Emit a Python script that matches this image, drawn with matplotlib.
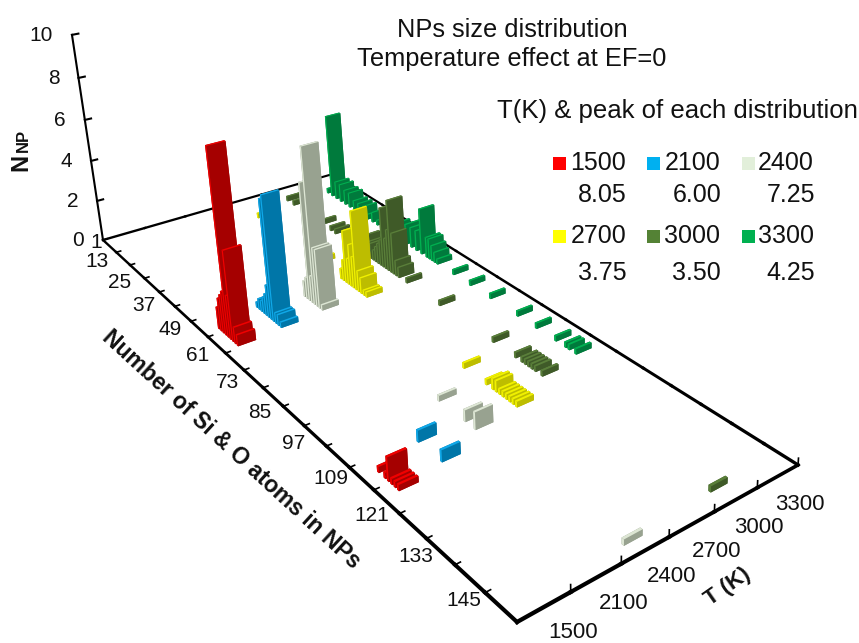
import numpy as np
import matplotlib
matplotlib.use("Agg")
import matplotlib.pyplot as plt
from matplotlib.patches import Rectangle

plt.rcParams["font.family"] = ["Liberation Sans", "DejaVu Sans"]

W_PX, H_PX = 859, 643

temps = ["1500", "2100", "2400", "2700", "3000", "3300"]
peaks = ["8.05", "6.00", "7.25", "3.75", "3.50", "4.25"]
size_labels = [1, 13, 25, 37, 49, 61, 73, 85, 97, 109, 121, 133, 145]
z_ticks = [0, 2, 4, 6, 8, 10]

# number of atoms in the NP and how many NPs, one pair of lists per temperature
sizes_1500 = [52, 53, 54, 55, 56, 57, 58, 59, 60, 110, 112, 113, 114, 115, 116]
counts_1500 = [1, 1.5, 1.75, 2, 8.4, 2, 4.1, 0.75, 0.5, 0.25, 0.25, 1, 0.25, 0.25, 0.25]
sizes_2100 = [49, 50, 51, 52, 53, 54, 55, 56, 57, 58, 59, 107, 114]
counts_2100 = [0.25, 0.5, 0.5, 0.75, 1, 1.5, 5.5, 5.75, 0.5, 0.5, 0.25, 0.5, 0.5]
sizes_2400 = [51, 52, 53, 54, 55, 56, 57, 58, 99, 107, 110, 148]
counts_2400 = [0.75, 1, 5.5, 1.25, 7.25, 2.75, 2.75, 0.25, 0.25, 0.5, 0.75, 0.25]
sizes_2700 = [12, 40, 49, 50, 51, 52, 53, 54, 55, 56, 57, 58, 59, 93, 100, 102, 103, 104, 105, 106, 107, 108, 109]
counts_2700 = [0.25, 0.25, 0.5, 1, 2.5, 1.25, 2, 1.5, 3.75, 1, 0.75, 0.25, 0.25, 0.25, 0.25, 0.5, 0.5, 0.25, 0.25, 0.25, 0.25, 0.25, 0.25]
sizes_3000 = [8, 11, 24, 28, 30, 43, 44, 45, 46, 47, 48, 49, 50, 51, 52, 53, 54, 55, 56, 59, 71, 89, 96, 98, 99, 100, 101, 102, 104, 147]
counts_3000 = [0.25, 0.25, 0.25, 0.25, 0.25, 1, 0.75, 0.75, 0.5, 0.75, 1, 1.25, 2.9, 1.5, 2, 3.5, 2, 0.75, 0.5, 0.25, 0.25, 0.25, 0.25, 0.25, 0.25, 0.25, 0.25, 0.25, 0.25, 0.25]
sizes_3300 = [10, 12, 14, 16, 18, 20, 22, 24, 26, 28, 30, 32, 34, 36, 38, 40, 42, 44, 46, 48, 50, 52, 53, 54, 55, 56, 62, 68, 75, 84, 90, 96, 99, 100, 102]
counts_3300 = [0.25, 4.25, 0.9, 0.9, 0.75, 0.75, 0.5, 0.5, 0.5, 0.25, 0.5, 0.25, 0.25, 0.5, 0.5, 0.75, 0.75, 1, 1, 1, 2.25, 1, 1, 0.75, 0.5, 0.25, 0.25, 0.25, 0.25, 0.25, 0.25, 0.25, 0.25, 0.25, 0.25]

all_sizes = [sizes_1500, sizes_2100, sizes_2400, sizes_2700, sizes_3000, sizes_3300]
all_counts = [counts_1500, counts_2100, counts_2400, counts_2700, counts_3000, counts_3300]

legend_colors = ["#FF0000", "#00B0F0", "#E2EFDA", "#FFFF00", "#548235", "#00B050"]
dark_colors = ["#A50000", "#0076A8", "#98A290", "#BDBD00", "#3F5A28", "#007A3C"]
side_colors = ["#F00000", "#10A8E8", "#DDE6D4", "#F0F000", "#5A7F3A", "#00B050"]

# camera: floor corners and where the verticals meet, in image pixels
g, h = -0.3693, 0.1135
wz = -0.00592
vx, vy = 596.0, 3500.0
S0, S_SPAN = 1.0, 150.0
T_SPAN = 6.0
P = np.array([
    [223.1 / S_SPAN, 267.8 / T_SPAN, wz * vx, 103 - 223.1 * S0 / S_SPAN],
    [152.3 / S_SPAN, -46.3 / T_SPAN, wz * vy, 240 - 152.3 * S0 / S_SPAN],
    [g / S_SPAN, h / T_SPAN, wz, 1 - g * S0 / S_SPAN],
])


def to_px(s, t, z=0.0):
    p = P @ np.array([s, t, z, 1.0])
    return p[0] / p[2], p[1] / p[2]


def fig_text(x, y, txt, **kw):
    kw.setdefault("ha", "center")
    kw.setdefault("va", "center")
    kw.setdefault("color", "#111111")
    return fig.text(x / W_PX, 1 - y / H_PX, txt, **kw)


fig = plt.figure(figsize=(W_PX / 100, H_PX / 100), dpi=100)
ax = fig.add_axes([0, 0, 1, 1], projection="3d")
ax.set_axis_off()
ax.patch.set_alpha(0)
ax.computed_zorder = False


def camera():
    # image pixels -> the 2d coordinates of this axes
    flip = np.array([[1, 0, 0], [0, -1, H_PX], [0, 0, 1.0]])
    px_to_data = ax.transData.inverted().get_matrix() @ flip
    top = px_to_data @ P
    wrow = P[2]
    depth = 0.5 * wrow - np.array([0, 0, 0, 1.0])
    return np.array([top[0], top[1], depth, wrow])


ax.get_proj = camera


def line3(ss, ts, zs, lw, zorder=1):
    ln, = ax.plot(ss, ts, zs, color="black", lw=lw, solid_capstyle="projecting", zorder=zorder)
    ln.set_clip_on(False)


def thick(s, t):
    return 1.7 / (P[2] @ np.array([s, t, 0, 1.0])) ** 1.3


# floor frame, drawn in pieces so it gets heavier towards the viewer
size_edge = np.linspace(1, 151, 21)
t_edge = np.arange(0, 7)
for a, b in zip(size_edge[:-1], size_edge[1:]):
    line3([a, b], [0, 0], [0, 0], thick(a, 0), zorder=300)
    line3([a, b], [6, 6], [0, 0], thick(a, 6))
    line3([a, a], [0, 0.1], [0, 0], 1.2, zorder=300)
for a, b in zip(t_edge[:-1], t_edge[1:]):
    line3([1, 1], [a, b], [0, 0], thick(1, a))
    line3([151, 151], [a, b], [0, 0], thick(151, a), zorder=300)
    line3([151, 151], [b, b], [0, 0.28], 1.2, zorder=300)

# value axis
line3([1, 1], [0, 0], [0, 10], 1.5, zorder=300)
for z in z_ticks[1:]:
    line3([1, 1], [0, 0.14], [z, z], 1.5, zorder=300)

# bars, back row first and small sizes first inside a row
order = 2
bar_dx, bar_dy = 0.55, 0.39
for i in range(5, -1, -1):
    face = [dark_colors[i], side_colors[i], side_colors[i], dark_colors[i], dark_colors[i], dark_colors[i]]
    for s, n in sorted(zip(all_sizes[i], all_counts[i])):
        c = ax.bar3d(s - bar_dx / 2, i + 0.5 - bar_dy / 2, 0, bar_dx, bar_dy, n,
                     color=face, shade=False, edgecolor="none")
        c.set_clip_on(False)
        c.set_zorder(order)
        order += 1

# tick labels
for z in z_ticks:
    x, y = to_px(1, 0, z)
    fig_text(x - 19, y + 1, str(z), ha="right", fontsize=15)
for lab in size_labels:
    x, y = to_px(lab, 0)
    if lab == 1:
        fig_text(x - 7, y + 2, str(lab), fontsize=15)
    else:
        fig_text(x - 28, y + 2, str(lab), fontsize=15)
for i, lab in enumerate(temps):
    x, y = to_px(151, i + 1)
    fig_text(x + 2, y + 40, lab, fontsize=16)

fig_text(231, 450, "Number of Si & O atoms in NPs", rotation=-42.5, fontsize=16.6, fontweight="bold",
         rotation_mode="anchor")
fig_text(728, 587, "T (K)", rotation=35, fontsize=16, fontweight="bold", rotation_mode="anchor")
fig_text(20.5, 162, "N", rotation=90, fontsize=17, fontweight="bold")
fig_text(23, 140, "NP", rotation=90, fontsize=12, fontweight="bold")

fig_text(512, 30, "NPs size distribution", fontsize=18.3)
fig_text(512, 59, "Temperature effect at EF=0", fontsize=18.3)
fig_text(497, 111, "T(K) & peak of each distribution", ha="left", fontsize=18.5)

# legend
patch_x = [553, 647, 742]
temp_right = [626, 720, 814]
row_y = [163, 236]
peak_y = [195, 273]
for i in range(6):
    col, row = i % 3, i // 3
    fig.add_artist(Rectangle((patch_x[col] / W_PX, 1 - (row_y[row] + 6.5) / H_PX), 13 / W_PX, 13 / H_PX,
                             transform=fig.transFigure, facecolor=legend_colors[i], edgecolor="none"))
    fig_text(temp_right[col], row_y[row], temps[i], ha="right", fontsize=18)
    fig_text(temp_right[col] + 1, peak_y[row], peaks[i], ha="right", fontsize=18)

fig.savefig("out.png", dpi=100)
